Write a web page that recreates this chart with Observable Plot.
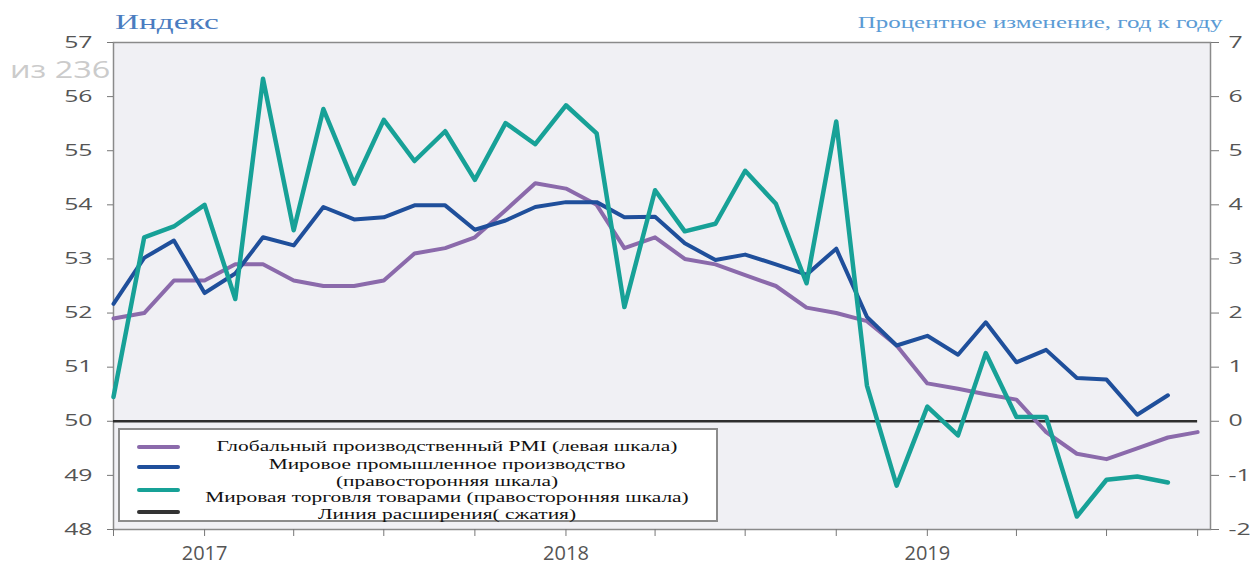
<!DOCTYPE html>
<html>
<head>
<meta charset="utf-8">
<script src="https://cdn.jsdelivr.net/npm/d3@7"></script>
<script src="https://cdn.jsdelivr.net/npm/@observablehq/plot@0.6"></script>
<style>
  body { margin: 0; background: #fff; }
  #wrap { position: relative; width: 1250px; height: 565px; overflow: hidden; background: #fff; }
  #chart { position: absolute; left: 0; top: 0; }
  .abs { position: absolute; white-space: nowrap; }
  #watermark { left: 10px; top: 58px; font-family: "Open Sans", sans-serif; font-size: 23px; line-height: 23px; color: #cbcbcb; transform-origin: left center; }
  #tl { left: 115px; top: 10px; font-family: "Liberation Serif", serif; font-size: 21px; color: #4a7cc0; transform-origin: left center; }
  #tr { right: 28px; top: 13px; font-family: "Liberation Serif", serif; font-size: 17px; color: #5b9bd5; transform-origin: right center; }
  #legend { left: 118px; top: 428px; width: 600px; height: 94px; box-sizing: border-box; border: 2px solid #8c8c8c; background: #fff; }
  .sw { position: absolute; left: 137px; width: 43px; height: 4px; border-radius: 2px; }
  .lt { position: absolute; left: 447px; font-family: "Liberation Serif", serif; font-size: 15px; color: #111; white-space: nowrap; }
</style>
</head>
<body>
<div id="wrap">
  <div id="watermark" class="abs">из 236</div>
  <div id="chart"></div>
  <div id="tl" class="abs">Индекс</div>
  <div id="tr" class="abs">Процентное изменение, год к году</div>
  <div id="legend" class="abs"></div>
</div>
<script>
// ---- data ----
const startMonth = "2016-10-01";
const pmi = [51.9, 52.0, 52.6, 52.6, 52.9, 52.9, 52.6, 52.5, 52.5, 52.6, 53.1, 53.2, 53.4,
             53.9, 54.4, 54.3, 54.0, 53.2, 53.4, 53.0, 52.9, 52.7, 52.5, 52.1, 52.0, 51.85,
             51.4, 50.7, 50.6, 50.5, 50.4, 49.8, 49.4, 49.3, 49.5, 49.7, 49.8];
const industrial = [2.17, 3.02, 3.34, 2.37, 2.73, 3.40, 3.25, 3.96, 3.73, 3.77, 3.99, 3.99, 3.54,
                    3.71, 3.96, 4.05, 4.05, 3.77, 3.78, 3.29, 2.98, 3.08, 2.90, 2.71, 3.19, 1.93,
                    1.40, 1.58, 1.23, 1.83, 1.09, 1.32, 0.80, 0.77, 0.12, 0.48];
const trade = [0.45, 3.40, 3.60, 4.00, 2.26, 6.33, 3.53, 5.77, 4.39, 5.57, 4.81, 5.36, 4.46,
               5.51, 5.12, 5.84, 5.32, 2.11, 4.27, 3.51, 3.65, 4.63, 4.02, 2.55, 5.54, 0.66,
               -1.19, 0.27, -0.26, 1.26, 0.08, 0.08, -1.76, -1.08, -1.02, -1.13];
const leftTicks = [48, 49, 50, 51, 52, 53, 54, 55, 56, 57];
const rightOffset = 50;   // right scale value 0 == left scale value 50
const threshold = 50;
const yearLabels = ["2017", "2018", "2019"];

const legendItems = [
  {color: "#8b6aab", lines: ["Глобальный производственный PMI (левая шкала)"]},
  {color: "#1f4f9b", lines: ["Мировое промышленное производство", "(правосторонняя шкала)"]},
  {color: "#17a197", lines: ["Мировая торговля товарами (правосторонняя шкала)"]},
  {color: "#333333", lines: ["Линия расширения( сжатия)"]}
];

// ---- build ----
const t0 = new Date(startMonth + "T00:00:00Z");
const months = d3.range(pmi.length).map(i => d3.utcMonth.offset(t0, i));
const pmiRows = pmi.map((v, i) => ({date: months[i], v}));
const indRows = industrial.map((v, i) => ({date: months[i], v}));
const tradeRows = trade.map((v, i) => ({date: months[i], v}));
const xEnd = d3.utcDay.offset(months[months.length - 1], 13);
const quarterTicks = d3.utcMonth.every(3).range(t0, d3.utcDay.offset(months[months.length - 1], 1));

const plot = Plot.plot({
  width: 1250,
  height: 565,
  marginLeft: 113,
  marginRight: 40,
  marginTop: 42,
  marginBottom: 36,
  style: {background: "transparent", fontFamily: "Open Sans, sans-serif", overflow: "visible"},
  x: {type: "utc", domain: [t0, xEnd]},
  y: {domain: [48, 57]},
  marks: [
    Plot.frame({fill: "#f0f0f4", stroke: "#8a8a8a", strokeWidth: 1.5}),
    Plot.axisY({ticks: leftTicks, tickSize: 6, tickPadding: 15, fontSize: 16,
                tickFormat: d => String(d), label: null, stroke: "#777", fill: "#555"}),
    Plot.axisY({anchor: "right", ticks: leftTicks, tickSize: 8, tickPadding: 10, fontSize: 16,
                tickFormat: d => String(d - rightOffset), label: null, stroke: "#777", fill: "#555"}),
    Plot.axisX({ticks: quarterTicks, tickSize: 7, tickPadding: 9, fontSize: 20,
                tickFormat: d => d.getUTCMonth() === 0 && yearLabels.includes(String(d.getUTCFullYear())) ? String(d.getUTCFullYear()) : "",
                label: null, stroke: "#777", fill: "#555"}),
    Plot.ruleY([{y: threshold, a: months[0], b: months[months.length - 1]}],
               {y: "y", x1: "a", x2: "b", stroke: "#2e2e2e", strokeWidth: 2.5}),
    Plot.line(pmiRows, {x: "date", y: "v", stroke: "#8b6aab", strokeWidth: 4, strokeLinejoin: "round"}),
    Plot.line(indRows, {x: "date", y: d => d.v + rightOffset, stroke: "#1f4f9b", strokeWidth: 4, strokeLinejoin: "round"}),
    Plot.line(tradeRows, {x: "date", y: d => d.v + rightOffset, stroke: "#17a197", strokeWidth: 4.5, strokeLinejoin: "round"})
  ]
});
document.getElementById("chart").appendChild(plot);

// widen the y tick label glyphs like the (horizontally stretched) original
plot.querySelectorAll('g[aria-label="y-axis tick label"] text').forEach(t => {
  const L = t.getComputedTextLength();
  t.setAttribute("textLength", L * 1.55);
  t.setAttribute("lengthAdjust", "spacingAndGlyphs");
});

// legend
const wrap = document.getElementById("wrap");
const swatchY = [447, 467, 490, 512];
const lineY = [[446], [464, 481], [497], [514]];
const lineEls = [];
legendItems.forEach((item, i) => {
  const sw = document.createElement("div");
  sw.className = "sw";
  sw.style.background = item.color;
  sw.style.top = (swatchY[i] - 2) + "px";
  wrap.appendChild(sw);
  item.lines.forEach((txt, j) => {
    const el = document.createElement("div");
    el.className = "lt";
    el.textContent = txt;
    el.style.top = lineY[i][j] + "px";
    wrap.appendChild(el);
    lineEls.push(el);
  });
});
const kLegend = 461 / lineEls[0].offsetWidth;
lineEls.forEach(el => { el.style.transform = `translate(-50%, -50%) scaleX(${kLegend})`; });

function fitWidth(id, target) {
  const el = document.getElementById(id);
  el.style.transform = `scaleX(${target / el.offsetWidth})`;
}
fitWidth("tl", 103);
fitWidth("tr", 364);
fitWidth("watermark", 100);
</script>
</body>
</html>
